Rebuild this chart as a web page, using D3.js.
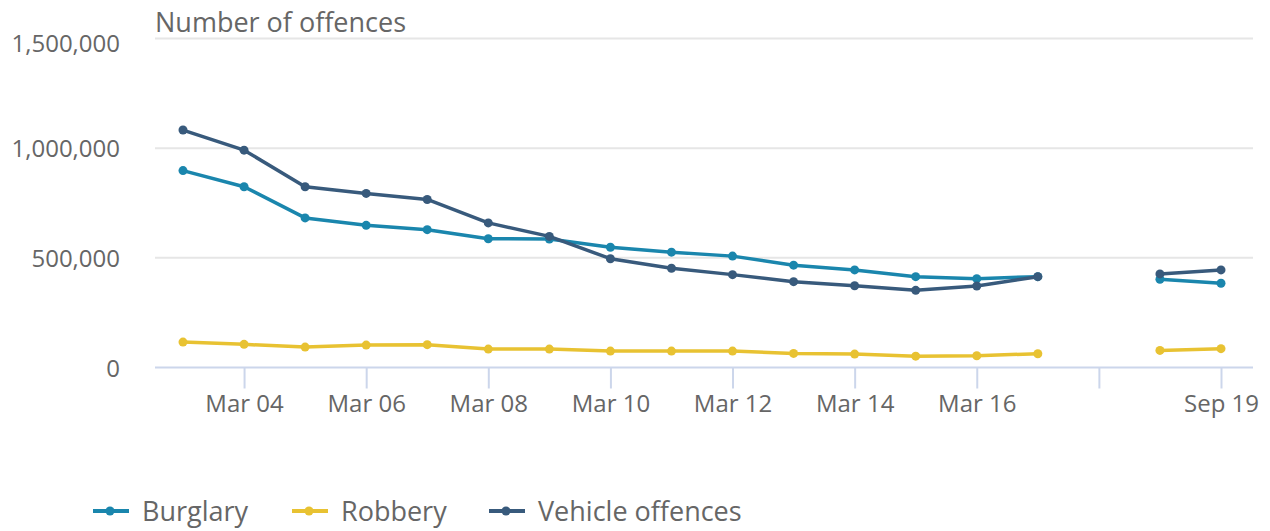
<!DOCTYPE html>
<html>
<head>
<meta charset="utf-8">
<script src="https://cdn.jsdelivr.net/npm/d3@7"></script>
<style>
  body { margin: 0; background: #fff; }
  text { font-family: "Open Sans", sans-serif; fill: #666666; }
</style>
</head>
<body>
<div id="chart"></div>
<script>
const width = 1270;
const height = 531;

// year-ending periods; index 15 is the gap between the two survey runs
const categories = ["Mar 03", "Mar 04", "Mar 05", "Mar 06", "Mar 07", "Mar 08", "Mar 09", "Mar 10",
    "Mar 11", "Mar 12", "Mar 13", "Mar 14", "Mar 15", "Mar 16", "Mar 17", "", "Sep 18", "Sep 19"];
const burglary = [897700, 824300, 682100, 648200, 628400, 587200, 585800, 548000, 526000,
    507800, 466500, 445000, 414200, 405000, 414200, null, 402300, 384000];
const robbery = [116000, 105500, 93100, 102300, 104100, 84000, 84000, 74800, 74800,
    74800, 64200, 61000, 51800, 53700, 62800, null, 78000, 85800];
const vehicle = [1082600, 990800, 824300, 793600, 766000, 659200, 597700, 496000, 452700,
    423400, 391300, 372900, 351800, 371600, 414200, null, 426600, 445000];
const yTicks = [0, 500000, 1000000, 1500000];

const series = [
    { name: "Burglary", values: burglary, color: "#1a86ad" },
    { name: "Robbery", values: robbery, color: "#e8c232" },
    { name: "Vehicle offences", values: vehicle, color: "#385a7c" }
];

const svg = d3.select("#chart")
    .append("svg")
    .attr("width", width)
    .attr("height", height);

const x = d3.scaleLinear()
    .domain([0, categories.length - 1])
    .range([183, 1221]);
const y = d3.scaleLinear()
    .domain([0, 1500000])
    .range([367.5, 38.5]);
const plotLeft = 155, plotRight = 1253;

// gridlines
svg.append("g")
    .selectAll("line")
    .data(yTicks.filter(d => d > 0))
    .enter()
    .append("line")
    .attr("x1", plotLeft)
    .attr("x2", plotRight)
    .attr("y1", d => y(d))
    .attr("y2", d => y(d))
    .attr("stroke", "#e6e6e6")
    .attr("stroke-width", 2);

// y labels
svg.append("g")
    .selectAll("text")
    .data(yTicks)
    .enter()
    .append("text")
    .attr("x", 120)
    .attr("y", d => y(d) + (d === 1500000 ? 13 : 9))
    .attr("text-anchor", "end")
    .style("font-size", "24px")
    .text(d => d3.format(",")(d));

// x axis
const xAxis = d3.axisBottom(x)
    .tickValues(d3.range(1, categories.length, 2))
    .tickSize(21)
    .tickPadding(3)
    .tickFormat(i => categories[i]);

const gx = svg.append("g")
    .attr("transform", "translate(0," + y(0) + ")")
    .call(xAxis);
gx.select(".domain").remove();
gx.selectAll(".tick line").attr("stroke", "#ccd6eb").attr("stroke-width", 2);
gx.selectAll(".tick text")
    .attr("fill", null)
    .attr("dy", null)
    .attr("y", 44)
    .style("font-size", "24px")
    .style("font-family", null);
gx.attr("font-family", null).attr("font-size", null);
svg.append("line")
    .attr("x1", plotLeft)
    .attr("x2", plotRight)
    .attr("y1", y(0))
    .attr("y2", y(0))
    .attr("stroke", "#ccd6eb")
    .attr("stroke-width", 2);

// title
svg.append("text")
    .attr("x", 155)
    .attr("y", 32)
    .style("font-size", "27px")
    .text("Number of offences");

// lines
const line = d3.line()
    .defined(d => d != null)
    .x((d, i) => x(i))
    .y(d => y(d));

series.forEach(function (s) {
    const g = svg.append("g").attr("class", "series");
    g.append("path")
        .attr("d", line(s.values))
        .attr("fill", "none")
        .attr("stroke", s.color)
        .attr("stroke-width", 3.5)
        .attr("stroke-linejoin", "round");
    g.selectAll("circle")
        .data(s.values.map((v, i) => ({ v: v, i: i })).filter(d => d.v != null))
        .enter()
        .append("circle")
        .attr("cx", d => x(d.i))
        .attr("cy", d => y(d.v))
        .attr("r", 4.5)
        .attr("fill", s.color);
});

// legend
const legendX = [93, 292, 489];
const legend = svg.append("g")
    .selectAll("g")
    .data(series)
    .enter()
    .append("g")
    .attr("transform", (d, i) => "translate(" + legendX[i] + ",511)");
legend.append("line")
    .attr("x1", 0)
    .attr("x2", 36)
    .attr("stroke", d => d.color)
    .attr("stroke-width", 4);
legend.append("circle")
    .attr("cx", 17)
    .attr("r", 4.5)
    .attr("fill", d => d.color);
legend.append("text")
    .attr("x", 49)
    .attr("y", 10)
    .style("font-size", "27px")
    .text(d => d.name);
</script>
</body>
</html>
